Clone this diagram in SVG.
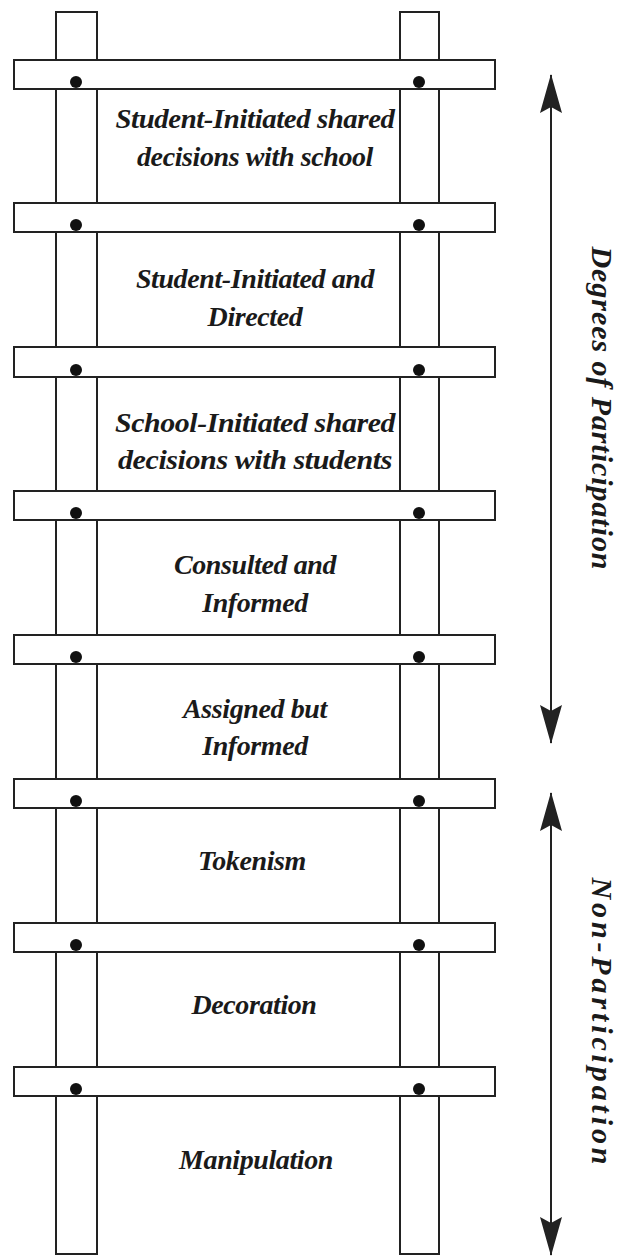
<svg xmlns="http://www.w3.org/2000/svg" width="623" height="1256" viewBox="0 0 623 1256">
<style>
.rail{fill:#fff;stroke:#222;stroke-width:2}
.rung{fill:#fff;stroke:#222;stroke-width:2}
.dot{fill:#111}
.lbl{font-family:"Liberation Serif","Times New Roman",serif;font-weight:bold;font-style:italic;font-size:28px;fill:#1a1a1a;text-anchor:middle;letter-spacing:-0.4px}
.side{font-family:"Liberation Serif","Times New Roman",serif;font-weight:bold;font-style:italic;font-size:30px;fill:#1a1a1a;text-anchor:middle}
.arr{stroke:#222;stroke-width:2;fill:none}
</style>
<defs>
<marker id="ah" viewBox="0 0 40 22" refX="39" refY="11" markerWidth="40" markerHeight="22" markerUnits="userSpaceOnUse" orient="auto-start-reverse">
<path d="M40,11 L1,0 L7,11 L1,22 Z" fill="#222"/>
</marker>
</defs>
<g id="rails">
<rect class="rail" x="56" y="12" width="41" height="1242"/>
<rect class="rail" x="400" y="12" width="39" height="1242"/>
</g>
<g id="rungs">
<rect class="rung" x="14" y="60" width="481" height="29"/>
<rect class="rung" x="14" y="203" width="481" height="29"/>
<rect class="rung" x="14" y="347" width="481" height="30"/>
<rect class="rung" x="14" y="491" width="481" height="29"/>
<rect class="rung" x="14" y="635" width="481" height="29"/>
<rect class="rung" x="14" y="779" width="481" height="29"/>
<rect class="rung" x="14" y="923" width="481" height="29"/>
<rect class="rung" x="14" y="1067" width="481" height="29"/>
</g>
<g id="dots">
<circle class="dot" cx="76" cy="82" r="6"/><circle class="dot" cx="419" cy="82" r="6"/>
<circle class="dot" cx="76" cy="225" r="6"/><circle class="dot" cx="419" cy="225" r="6"/>
<circle class="dot" cx="76" cy="370" r="6"/><circle class="dot" cx="419" cy="370" r="6"/>
<circle class="dot" cx="76" cy="513" r="6"/><circle class="dot" cx="419" cy="513" r="6"/>
<circle class="dot" cx="76" cy="657" r="6"/><circle class="dot" cx="419" cy="657" r="6"/>
<circle class="dot" cx="76" cy="801" r="6"/><circle class="dot" cx="419" cy="801" r="6"/>
<circle class="dot" cx="76" cy="945" r="6"/><circle class="dot" cx="419" cy="945" r="6"/>
<circle class="dot" cx="76" cy="1089" r="6"/><circle class="dot" cx="419" cy="1089" r="6"/>
</g>
<g id="step8"><text class="lbl" x="255" y="128" textLength="279" lengthAdjust="spacingAndGlyphs">Student-Initiated shared</text><text class="lbl" x="255" y="166" textLength="236" lengthAdjust="spacingAndGlyphs">decisions with school</text></g>
<g id="step7"><text class="lbl" x="255" y="288">Student-Initiated and</text><text class="lbl" x="255" y="326">Directed</text></g>
<g id="step6"><text class="lbl" x="255" y="432" textLength="280" lengthAdjust="spacingAndGlyphs">School-Initiated shared</text><text class="lbl" x="255" y="469" textLength="274" lengthAdjust="spacingAndGlyphs">decisions with students</text></g>
<g id="step5"><text class="lbl" x="255" y="574">Consulted and</text><text class="lbl" x="255" y="612">Informed</text></g>
<g id="step4"><text class="lbl" x="255" y="718">Assigned but</text><text class="lbl" x="255" y="755">Informed</text></g>
<g id="step3"><text class="lbl" x="252" y="870">Tokenism</text></g>
<g id="step2"><text class="lbl" x="254" y="1014">Decoration</text></g>
<g id="step1"><text class="lbl" x="256" y="1169">Manipulation</text></g>
<g id="connectors">
<line class="arr" x1="551" y1="75" x2="551" y2="743" marker-start="url(#ah)" marker-end="url(#ah)"/>
<line class="arr" x1="551" y1="793" x2="551" y2="1255" marker-start="url(#ah)" marker-end="url(#ah)"/>
</g>
<g id="side-labels">
<text class="side" transform="translate(592,408) rotate(90)" textLength="323" lengthAdjust="spacing">Degrees of Participation</text>
<text class="side" transform="translate(592,1021) rotate(90)" textLength="287" lengthAdjust="spacing">Non-Participation</text>
</g>
</svg>
